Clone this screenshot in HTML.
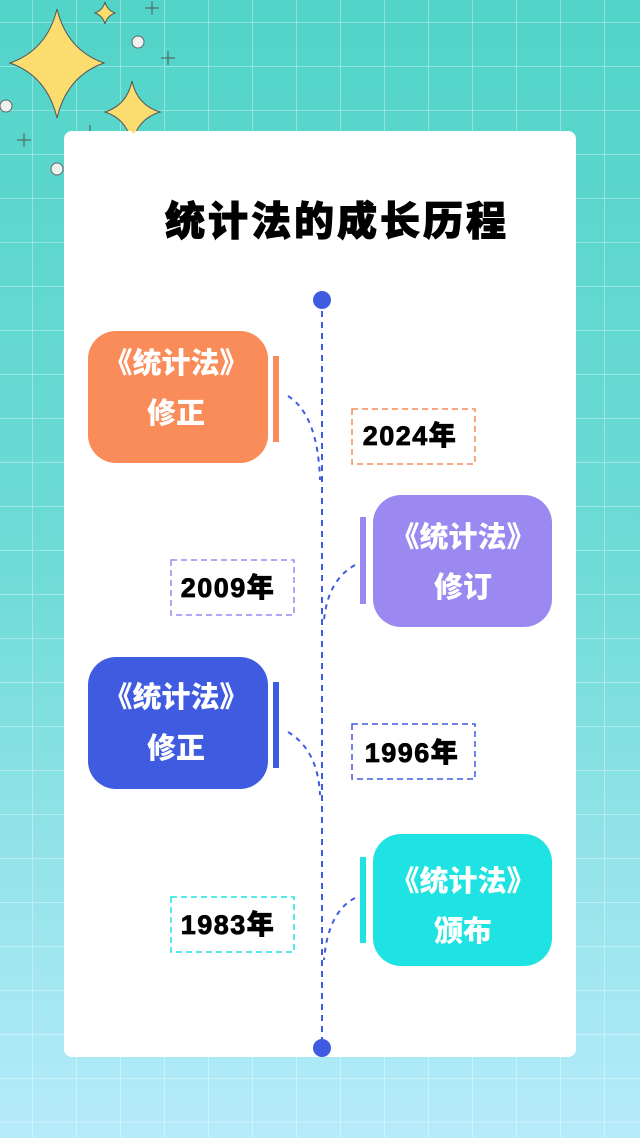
<!DOCTYPE html>
<html><head><meta charset="utf-8"><style>
body{margin:0;width:640px;height:1138px;overflow:hidden}
svg text{font-family:"Liberation Sans","Noto Sans CJK SC",sans-serif;font-weight:900}
</style></head><body>
<svg width="640" height="1138" viewBox="0 0 640 1138" xmlns="http://www.w3.org/2000/svg">
<defs>
<linearGradient id="bg" x1="0" y1="0" x2="0" y2="1">
<stop offset="0" stop-color="#52d4c8"/><stop offset="0.5" stop-color="#6fdbd6"/><stop offset="1" stop-color="#b6ebfb"/>
</linearGradient>
<pattern id="grid" x="-11" y="22" width="44" height="44" patternUnits="userSpaceOnUse">
<path d="M44 0V44M0 0H44" stroke="#ffffff" stroke-opacity="0.45" stroke-width="1.5" fill="none"/>
</pattern>
</defs>
<rect width="640" height="1138" fill="url(#bg)"/>
<rect width="640" height="1138" fill="url(#grid)"/>
<g fill="#fbdc6f" stroke="#555" stroke-width="1">
<path d="M57 9 Q67 50 104 63 Q67 76 57 118 Q47 76 10 63 Q47 50 57 9Z"/>
<path d="M132 81 Q137 105 160 112 Q137 119 132 144 Q127 119 105 112 Q127 105 132 81Z"/>
<path d="M105 2 Q107 10 115 13 Q107 16 105 24 Q103 16 95 13 Q103 10 105 2Z"/>
</g>
<g fill="#eef2f0" stroke="#666" stroke-width="1">
<circle cx="138" cy="42" r="6"/><circle cx="6" cy="106" r="6"/><circle cx="57" cy="169" r="6"/>
</g>
<g stroke="#555" stroke-width="1">
<path d="M152 1V15M145 8H159M168 51V65M161 58H175M90 125V139M83 132H97M24 133V147M17 140H31"/>
</g>
<rect x="64" y="131" width="512" height="926" rx="8" fill="#fff"/>
<rect x="132" y="125" width="3" height="8" fill="#fbdc6f"/>
<text x="337" y="235" font-size="40" letter-spacing="3" text-anchor="middle" fill="#000" stroke="#000" stroke-width="1">统计法的成长历程</text>
<line x1="322" y1="300" x2="322" y2="1048" stroke="#3f5be0" stroke-width="2" stroke-dasharray="6,5"/>
<circle cx="322" cy="300" r="9" fill="#3f5be0"/><circle cx="322" cy="1048" r="9" fill="#3f5be0"/>
<g fill="none" stroke="#3f5be0" stroke-width="2" stroke-dasharray="5,5">
<path d="M288 396 Q318 415 320 480"/>
<path d="M355 565 Q328 580 324 620"/>
<path d="M288 732 Q318 750 320 795"/>
<path d="M355 898 Q328 912 324 960"/>
</g>
<g font-size="29" text-anchor="middle" fill="#fff">
<rect x="88" y="331" width="180" height="132" rx="28" fill="#f98c58"/>
<rect x="273" y="356" width="6" height="86" fill="#f98c58"/>
<text x="176" y="373">《统计法》</text>
<text x="176" y="423">修正</text>
<rect x="373" y="495" width="179" height="132" rx="28" fill="#9b88f1"/>
<rect x="360" y="517" width="6" height="87" fill="#9b88f1"/>
<text x="463" y="547">《统计法》</text>
<text x="463" y="597">修订</text>
<rect x="88" y="657" width="180" height="132" rx="28" fill="#3f5be0"/>
<rect x="273" y="682" width="6" height="86" fill="#3f5be0"/>
<text x="176" y="707">《统计法》</text>
<text x="176" y="758">修正</text>
<rect x="373" y="834" width="179" height="132" rx="28" fill="#1fe3e3"/>
<rect x="360" y="857" width="6" height="86" fill="#1fe3e3"/>
<text x="463" y="891">《统计法》</text>
<text x="463" y="941">颁布</text>
</g>
<g font-size="27" letter-spacing="1.5" text-anchor="middle" fill="#000" stroke="#000" stroke-width="0.8">
<text x="410" y="445">2024年</text>
<text x="228" y="597">2009年</text>
<text x="412" y="762">1996年</text>
<text x="228" y="934">1983年</text>
</g>
<g fill="none" stroke-width="1.5" stroke-dasharray="6,4">
<rect x="352" y="409" width="123" height="55" stroke="#f98c58"/>
<rect x="171" y="560" width="123" height="55" stroke="#9b88f1"/>
<rect x="352" y="724" width="123" height="55" stroke="#3f5be0"/>
<rect x="171" y="897" width="123" height="55" stroke="#1fe3e3"/>
</g>
</svg>
</body></html>
